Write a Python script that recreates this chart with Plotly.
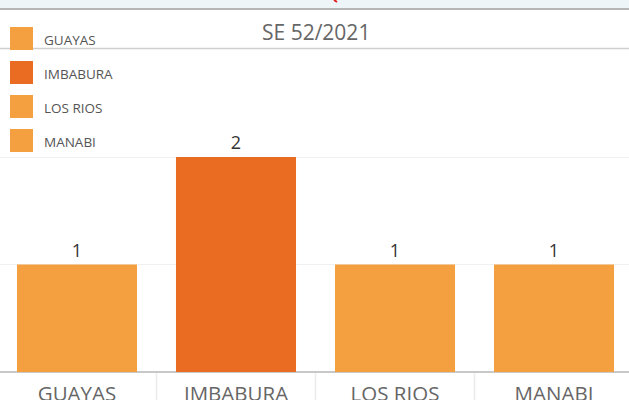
import plotly.graph_objects as go

# ---- data ----
categories = ["GUAYAS", "IMBABURA", "LOS RIOS", "MANABI"]
values = [1, 2, 1, 1]
colors = ["#F5A040", "#E96C22", "#F5A040", "#F5A040"]
title_text = "SE 52/2021"

W, H = 629, 400
M_L, M_R, M_T, M_B = 0, 0, 48, 28
PLOT_H = H - M_T - M_B

def px_x(px):
    return px / W

def px_y(py):
    return (H - M_B - py) / PLOT_H

fig = go.Figure()
fig.add_trace(go.Bar(
    x=categories, y=values,
    marker=dict(color=colors, line=dict(width=0)),
    width=0.755,
    text=[str(v) for v in values],
    textposition="outside",
    textfont=dict(family="Open Sans", size=18, color="#333333"),
    cliponaxis=False,
    showlegend=False,
    hoverinfo="skip",
))

shapes = []
annotations = []

# top band
shapes.append(dict(type="rect", xref="paper", yref="paper", x0=0, x1=1,
                   y0=px_y(8), y1=px_y(0), fillcolor="#EEF5F8", line=dict(width=0), layer="above"))
shapes.append(dict(type="line", xref="paper", yref="paper", x0=0, x1=1,
                   y0=px_y(9), y1=px_y(9), line=dict(color="#B5B5B5", width=2), layer="above"))
shapes.append(dict(type="line", xref="paper", yref="paper", x0=px_x(334), x1=px_x(337),
                   y0=px_y(0), y1=px_y(2), line=dict(color="#E02020", width=2), layer="above"))
# header separator
shapes.append(dict(type="line", xref="paper", yref="paper", x0=0, x1=1,
                   y0=px_y(48.5), y1=px_y(48.5), line=dict(color="#CFCFCF", width=1.5), layer="above"))

# category separators below baseline
for i in range(len(categories) - 1):
    shapes.append(dict(type="line", xref="x", yref="paper", x0=i + 0.5, x1=i + 0.5,
                       y0=px_y(372), y1=px_y(400), line=dict(color="#EBEBEB", width=1.5), layer="below"))

# legend (custom squares, drawn from data)
for i, (cat, col) in enumerate(zip(categories, colors)):
    top = 27 + i * 34
    shapes.append(dict(type="rect", xref="paper", yref="paper",
                       x0=px_x(10), x1=px_x(33), y0=px_y(top + 23), y1=px_y(top),
                       fillcolor=col, line=dict(width=0), layer="above"))
    annotations.append(dict(text=cat, xref="paper", yref="paper", x=px_x(41.5), y=px_y(top + 12.5),
                            xanchor="left", yanchor="middle", showarrow=False,
                            font=dict(family="Open Sans", size=13.5, color="#555555")))

# title
annotations.append(dict(text=title_text, xref="paper", yref="paper", x=px_x(315.5), y=px_y(32.5),
                        xanchor="center", yanchor="middle", showarrow=False,
                        font=dict(family="Open Sans", size=21, color="#666666")))

fig.update_layout(
    width=W, height=H,
    margin=dict(l=M_L, r=M_R, t=M_T, b=M_B, pad=0, autoexpand=False),
    paper_bgcolor="white", plot_bgcolor="white",
    xaxis=dict(range=[-77 / 159, 3 + (629 - 554) / 159], showgrid=False, zeroline=False,
               showline=False, ticks="", automargin=False,
               tickfont=dict(family="Open Sans", size=20.5, color="#666666"),
               ticklabelstandoff=7, fixedrange=True),
    yaxis=dict(range=[0, PLOT_H / 107.5], tickvals=[1, 2], showticklabels=False,
               showgrid=True, gridcolor="#F0F0F0", gridwidth=1, automargin=False,
               zeroline=True, zerolinecolor="#C8C8C8", zerolinewidth=1.5, fixedrange=True),
    shapes=shapes,
    annotations=annotations,
    showlegend=False,
)

fig.write_html("out.html", config={"displayModeBar": False},
               post_script="document.body.style.margin='0';document.body.style.overflow='hidden';")
